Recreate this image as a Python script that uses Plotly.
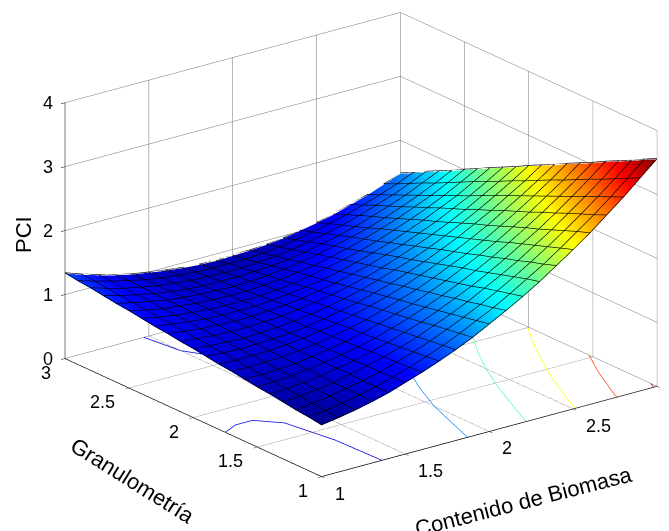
import numpy as np
import plotly.graph_objects as go

x_values = [1.0,1.1,1.2,1.3,1.4,1.5,1.6,1.7,1.8,1.9,2.0,2.1,2.2,2.3,2.4,2.5,2.6,2.7,2.8,2.9,3.0]
y_values = [1.0,1.1,1.2,1.3,1.4,1.5,1.6,1.7,1.8,1.9,2.0,2.1,2.2,2.3,2.4,2.5,2.6,2.7,2.8,2.9,3.0]
# PCI: one row per x value, one column per y value
pci_by_x = [
[.80,.83,.85,.88,.91,.93,.96,.99,1.01,1.04,1.07,1.09,1.12,1.14,1.17,1.20,1.22,1.25,1.28,1.30,1.33],
[.84,.86,.88,.90,.92,.94,.96,.98,1.00,1.02,1.04,1.06,1.08,1.10,1.12,1.14,1.16,1.18,1.20,1.22,1.24],
[.89,.90,.92,.93,.95,.96,.97,.99,1.00,1.01,1.03,1.04,1.05,1.07,1.08,1.09,1.11,1.12,1.13,1.15,1.16],
[.95,.96,.97,.97,.98,.99,.99,1.00,1.01,1.02,1.02,1.03,1.04,1.04,1.05,1.06,1.06,1.07,1.08,1.09,1.09],
[1.02,1.02,1.02,1.03,1.03,1.03,1.03,1.03,1.03,1.03,1.03,1.03,1.03,1.03,1.03,1.03,1.03,1.03,1.03,1.03,1.03],
[1.11,1.10,1.09,1.09,1.08,1.08,1.07,1.06,1.06,1.05,1.05,1.04,1.03,1.03,1.02,1.02,1.01,1.00,1.00,.99,.99],
[1.20,1.18,1.17,1.16,1.15,1.13,1.12,1.11,1.10,1.08,1.07,1.06,1.05,1.03,1.02,1.01,1.00,.98,.97,.96,.95],
[1.30,1.28,1.26,1.24,1.22,1.20,1.18,1.17,1.15,1.13,1.11,1.09,1.07,1.05,1.03,1.01,.99,.98,.96,.94,.92],
[1.41,1.38,1.36,1.33,1.31,1.28,1.26,1.23,1.21,1.18,1.16,1.13,1.10,1.08,1.05,1.03,1.00,.98,.95,.93,.90],
[1.53,1.50,1.47,1.44,1.40,1.37,1.34,1.31,1.28,1.24,1.21,1.18,1.15,1.12,1.08,1.05,1.02,.99,.96,.93,.89],
[1.67,1.63,1.59,1.55,1.51,1.47,1.43,1.40,1.36,1.32,1.28,1.24,1.20,1.16,1.13,1.09,1.05,1.01,.97,.93,.90],
[1.81,1.76,1.72,1.67,1.63,1.58,1.54,1.49,1.45,1.40,1.36,1.31,1.27,1.22,1.18,1.13,1.09,1.04,1.00,.95,.91],
[1.96,1.91,1.86,1.81,1.75,1.70,1.65,1.60,1.55,1.50,1.45,1.39,1.34,1.29,1.24,1.19,1.14,1.08,1.03,.98,.93],
[2.12,2.07,2.01,1.95,1.89,1.83,1.78,1.72,1.66,1.60,1.54,1.49,1.43,1.37,1.31,1.25,1.20,1.14,1.08,1.02,.96],
[2.30,2.23,2.17,2.10,2.04,1.97,1.91,1.84,1.78,1.72,1.65,1.59,1.52,1.46,1.39,1.33,1.27,1.20,1.14,1.07,1.01],
[2.48,2.41,2.34,2.27,2.20,2.13,2.05,1.98,1.91,1.84,1.77,1.70,1.63,1.56,1.49,1.42,1.34,1.27,1.20,1.13,1.06],
[2.67,2.60,2.52,2.44,2.36,2.29,2.21,2.13,2.05,1.98,1.90,1.82,1.74,1.67,1.59,1.51,1.43,1.36,1.28,1.20,1.12],
[2.88,2.79,2.71,2.63,2.54,2.46,2.37,2.29,2.21,2.12,2.04,1.95,1.87,1.79,1.70,1.62,1.53,1.45,1.37,1.28,1.20],
[3.09,3.00,2.91,2.82,2.73,2.64,2.55,2.46,2.37,2.28,2.19,2.10,2.00,1.91,1.82,1.73,1.64,1.55,1.46,1.37,1.28],
[3.32,3.22,3.12,3.02,2.93,2.83,2.73,2.64,2.54,2.44,2.35,2.25,2.15,2.06,1.96,1.86,1.76,1.67,1.57,1.47,1.38],
[3.55,3.45,3.34,3.24,3.14,3.03,2.93,2.83,2.72,2.62,2.52,2.41,2.31,2.21,2.10,2.00,1.89,1.79,1.69,1.58,1.48],
]
# floor contours: (x, y) read along each level
level_1a_x = [1.0,1.1,1.2,1.3,1.35,1.36]
level_1a_y = [1.75,1.80,1.80,1.68,1.35,1.0]
level_1b_x = [1.47,1.5,1.6,1.7,1.8,2.0,2.2,2.39]
level_1b_y = [3.0,2.75,2.57,2.57,2.61,2.73,2.87,3.0]
level_15_x = [1.87,1.9,2.0,2.1,2.2,2.4,2.6,2.8,3.0]
level_15_y = [1.0,1.10,1.43,1.68,1.89,2.235,2.51,2.76,2.98]
level_20_x = [2.22,2.3,2.4,2.5,2.6,2.7,2.8,2.9,3.0]
level_20_y = [1.0,1.21,1.46,1.68,1.87,2.04,2.21,2.36,2.50]
level_25_x = [2.51,2.6,2.7,2.8,2.9,3.0]
level_25_y = [1.0,1.22,1.45,1.65,1.84,2.01]
level_30_x = [2.76,2.8,2.9,3.0]
level_30_y = [1.0,1.10,1.33,1.53]
level_35_x = [2.98,3.0]
level_35_y = [1.0,1.05]
contour_colors = ["#0000e6","#0000e6","#1e90ff","#5fffb0","#ffff00","#ff4a10","#a00000"]

x_ticks = [1,1.5,2,2.5,3]
y_ticks = [1,1.5,2,2.5,3]
z_ticks = [0,1,2,3,4]

jet = [[0,"rgb(0,0,143)"],[0.125,"rgb(0,0,255)"],[0.375,"rgb(0,255,255)"],
       [0.625,"rgb(255,255,0)"],[0.875,"rgb(255,0,0)"],[1,"rgb(128,0,0)"]]

z = np.array(pci_by_x).T
fig = go.Figure()
fig.add_trace(go.Surface(
    x=x_values, y=y_values, z=z, colorscale=jet, cmin=0.8, cmax=3.55, showscale=False,
    lighting=dict(ambient=1, diffuse=0, specular=0, fresnel=0, roughness=1),
    contours=dict(x=dict(highlight=False), y=dict(highlight=False), z=dict(highlight=False)),
    hoverinfo="skip"))

# mesh lines of the surface, lifted a hair so they stay on top of it
lift = 0.012
mx, my, mz = [], [], []
for j, yv in enumerate(y_values):
    mx += list(x_values) + [None]; my += [yv]*len(x_values) + [None]; mz += list(z[j]+lift) + [None]
for i, xv in enumerate(x_values):
    mx += [xv]*len(y_values) + [None]; my += list(y_values) + [None]; mz += list(z[:,i]+lift) + [None]
fig.add_trace(go.Scatter3d(x=mx, y=my, z=mz, mode="lines", line=dict(color="black", width=1.3),
                           connectgaps=False, showlegend=False, hoverinfo="skip"))

lines = [(level_1a_x,level_1a_y),(level_1b_x,level_1b_y),(level_15_x,level_15_y),(level_20_x,level_20_y),
         (level_25_x,level_25_y),(level_30_x,level_30_y),(level_35_x,level_35_y)]
for (lx,ly),c in zip(lines,contour_colors):
    fig.add_trace(go.Scatter3d(x=lx,y=ly,z=[0]*len(lx),mode="lines",line=dict(color=c,width=1.5),
                               showlegend=False,hoverinfo="skip"))

font = "Liberation Sans"
def axis(ticks, rng):
    return dict(title=dict(text=""), range=rng, tickvals=ticks, showticklabels=False,
                showbackground=False, showgrid=True, gridcolor="#707070", gridwidth=1,
                showline=True, linecolor="black", linewidth=1.5, ticks="outside", ticklen=5,
                tickcolor="black", zeroline=False, showspikes=False, autorange=False)

anns = []
def label(text, px, py, pz, xshift, yshift, xanchor="center", angle=0, size=18):
    anns.append(dict(x=px, y=py, z=pz, text=text, showarrow=False, xanchor=xanchor, yanchor="middle",
                     xshift=xshift, yshift=yshift, textangle=angle,
                     font=dict(family=font, size=size, color="black")))
for t in x_ticks[:-1]:
    label(f"{t:g}", t, 1, 0, 11, -17, "left")
for t in y_ticks:
    label(f"{t:g}", 1, t, 0, -12, -14, "right")
for t in z_ticks:
    label(f"{t:g}", 1, 3, t, -10, 0, "right")
label("Contenido de Biomasa", 2, 1, 0, 34, -70, angle=-14.4, size=22)
label("Granulometría", 1, 2, 0, -61, -63, angle=32, size=22)
label("PCI", 1, 3, 1.9, -42, 3, angle=-90, size=22)

az = np.radians(-37.4); el = np.radians(20.6)
d = np.array([np.cos(el)*np.sin(az), -np.cos(el)*np.cos(az), np.sin(el)])
center = np.array([-0.079,0.0115,-0.102])
r = 1.25
eye = center + r*d
k = 1.591
fig.update_layout(
    width=669, height=531, margin=dict(l=0,r=0,t=0,b=0), paper_bgcolor="white", showlegend=False,
    annotations=[dict(xref="paper", yref="paper", x=664/669, y=1-402/531, text=f"{x_ticks[-1]:g}",
                      showarrow=False, xanchor="left", yanchor="middle",
                      font=dict(family=font, size=18, color="black"))],
    scene=dict(
        domain=dict(x=[0,1],y=[0,1]),
        xaxis=axis(x_ticks,[1,3]),
        yaxis=axis(y_ticks,[1,3]),
        zaxis=axis(z_ticks,[0,4]),
        annotations=anns,
        aspectmode="manual", aspectratio=dict(x=k,y=k,z=0.647*k),
        camera=dict(projection=dict(type="orthographic"),
                    eye=dict(x=eye[0],y=eye[1],z=eye[2]),
                    center=dict(x=center[0],y=center[1],z=center[2]),
                    up=dict(x=0,y=0,z=1))))
fig.write_html("out.html")
